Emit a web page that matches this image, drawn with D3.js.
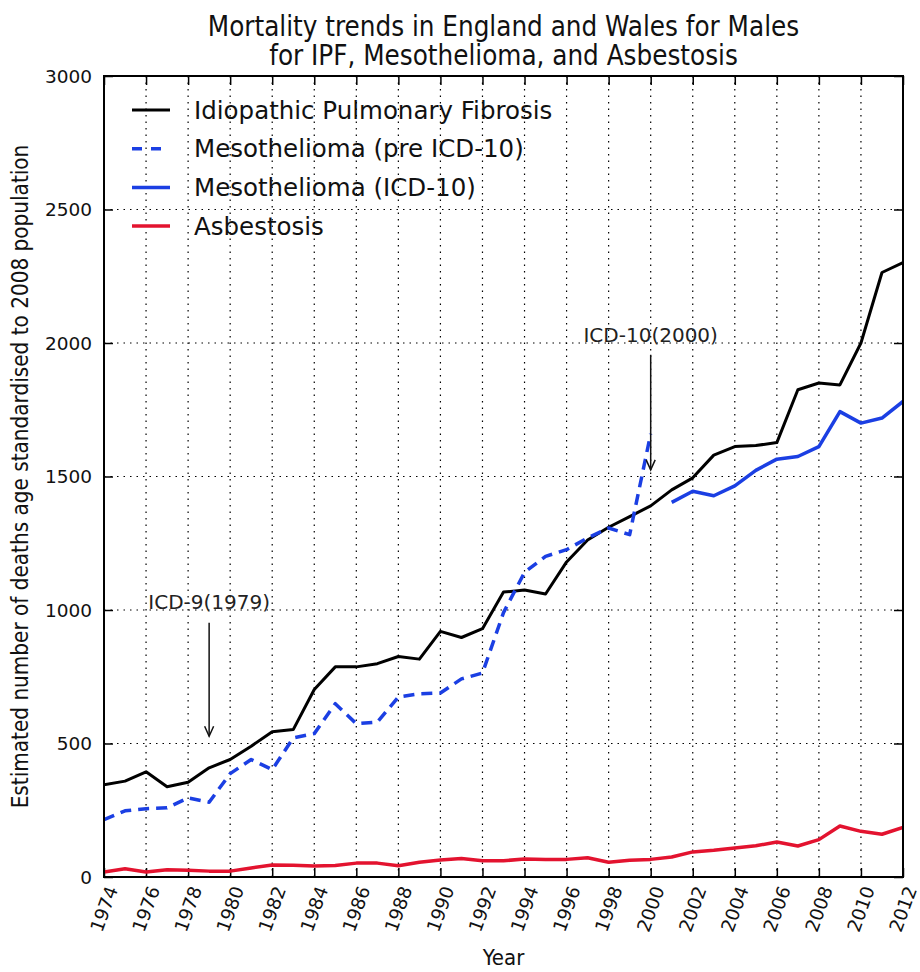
<!DOCTYPE html>
<html>
<head>
<meta charset="utf-8">
<script src="https://cdn.jsdelivr.net/npm/d3@7/dist/d3.min.js"></script>
<style>
  body { margin: 0; background: #fff; }
  text { font-family: "DejaVu Sans", sans-serif; fill: #111; }
  .cond { font-family: "DejaVu Sans Condensed", "DejaVu Sans", sans-serif; font-stretch: condensed; }
</style>
</head>
<body>
<div id="chart"></div>
<script>
// data
var years = d3.range(1974, 2013);
var ipf = [345, 359, 394, 338, 355, 409, 440, 490, 544, 552, 702, 787, 787, 799, 826, 816, 920, 897, 930, 1067,
           1075, 1060, 1180, 1262, 1310, 1350, 1390, 1450, 1495, 1580, 1612, 1616, 1627, 1825, 1850, 1843, 2000, 2264, 2301];
var mesoPreYears = d3.range(1974, 2001);
var mesoPre = [215, 248, 256, 259, 296, 280, 387, 440, 402, 521, 537, 649, 574, 580, 674, 686, 689, 742, 764, 990,
               1141, 1201, 1226, 1270, 1307, 1282, 1660];
var mesoIcdYears = d3.range(2001, 2013);
var mesoIcd = [1403, 1445, 1428, 1465, 1523, 1565, 1575, 1612, 1743, 1700, 1719, 1781];
var asbestosis = [19, 31, 19, 27, 25, 22, 22, 34, 45, 44, 41, 43, 52, 52, 42, 55, 64, 69, 61, 61, 67, 66, 66, 72,
                  55, 63, 66, 75, 94, 100, 109, 117, 131, 116, 140, 191, 171, 160, 186];

var xTicks = d3.range(1974, 2013, 2);
var yTicks = [0, 500, 1000, 1500, 2000, 2500, 3000];

var legendNames = ["Idiopathic Pulmonary Fibrosis", "Mesothelioma (pre ICD-10)", "Mesothelioma (ICD-10)", "Asbestosis"];
var notes = [
  {label: "ICD-9(1979)", year: 1979, textAt: 1005, from: 952, to: 527},
  {label: "ICD-10(2000)", year: 2000, textAt: 2004, from: 1956, to: 1525}
];

var W = 920, H = 972;
var margin = {top: 76, right: 17, bottom: 95, left: 104};
var width = W - margin.left - margin.right;
var height = H - margin.top - margin.bottom;

var svg = d3.select("#chart").append("svg")
  .attr("width", W).attr("height", H);

var g = svg.append("g").attr("transform", "translate(" + margin.left + "," + margin.top + ")");

var x = d3.scaleLinear().domain([1974, 2012]).range([0, width]);
var y = d3.scaleLinear().domain([0, 3000]).range([height, 0]);

// gridlines
g.append("g").selectAll("line").data(xTicks.slice(1, -1)).enter().append("line")
  .attr("x1", function(d) { return x(d); }).attr("x2", function(d) { return x(d); })
  .attr("y1", 0).attr("y2", height)
  .attr("stroke", "#000").attr("stroke-width", 1.2).attr("stroke-dasharray", "1.5,5");
g.append("g").selectAll("line").data(yTicks.slice(1, -1)).enter().append("line")
  .attr("y1", function(d) { return y(d); }).attr("y2", function(d) { return y(d); })
  .attr("x1", 0).attr("x2", width)
  .attr("stroke", "#000").attr("stroke-width", 1.2).attr("stroke-dasharray", "1.5,5");

// axes, ticks pointing inward on all four sides
var tk = 9;
var axB = g.append("g").attr("transform", "translate(0," + height + ")")
  .call(d3.axisBottom(x).tickValues(xTicks).tickSizeInner(-tk).tickSizeOuter(0).tickFormat(""));
var axT = g.append("g")
  .call(d3.axisTop(x).tickValues(xTicks).tickSizeInner(-tk).tickSizeOuter(0).tickFormat(""));
var axL = g.append("g")
  .call(d3.axisLeft(y).tickValues(yTicks).tickSizeInner(-tk).tickSizeOuter(0).tickFormat(""));
var axR = g.append("g").attr("transform", "translate(" + width + ",0)")
  .call(d3.axisRight(y).tickValues(yTicks).tickSizeInner(-tk).tickSizeOuter(0).tickFormat(""));
[axB, axT, axL, axR].forEach(function(a) {
  a.select(".domain").remove();
  a.selectAll(".tick line").attr("stroke", "#000").attr("stroke-width", 1.5);
});

// tick labels
g.append("g").selectAll("text").data(yTicks).enter().append("text")
  .attr("x", -12).attr("y", function(d) { return y(d); })
  .attr("text-anchor", "end").attr("dominant-baseline", "central")
  .style("font-size", "18.5px")
  .text(function(d) { return d; });

g.append("g").selectAll("text").data(xTicks).enter().append("text")
  .attr("transform", function(d) { return "translate(" + x(d) + "," + (height + 32) + ") rotate(-70)"; })
  .attr("text-anchor", "middle").attr("dominant-baseline", "central")
  .style("font-size", "18.5px")
  .text(function(d) { return d; });

// lines
var line = d3.line()
  .x(function(d) { return x(d[0]); })
  .y(function(d) { return y(d[1]); });

var series = [
  {data: d3.zip(years, ipf), color: "#000", w: 3, dash: null},
  {data: d3.zip(mesoPreYears, mesoPre), color: "#1b3fe3", w: 3.5, dash: "11,7"},
  {data: d3.zip(mesoIcdYears, mesoIcd), color: "#1b3fe3", w: 3.5, dash: null},
  {data: d3.zip(years, asbestosis), color: "#e3132f", w: 3.5, dash: null}
];

g.append("defs").append("clipPath").attr("id", "clip")
  .append("rect").attr("width", width).attr("height", height);

g.append("g").attr("clip-path", "url(#clip)").selectAll("path").data(series).enter().append("path")
  .attr("d", function(d) { return line(d.data); })
  .attr("fill", "none")
  .attr("stroke", function(d) { return d.color; })
  .attr("stroke-width", function(d) { return d.w; })
  .attr("stroke-dasharray", function(d) { return d.dash; })
  .attr("stroke-linejoin", "round");

// frame
g.append("rect").attr("width", width).attr("height", height)
  .attr("fill", "none").attr("stroke", "#000").attr("stroke-width", 2);

// annotations
var ann = g.append("g").selectAll("g").data(notes).enter().append("g");
ann.append("text")
  .attr("x", function(d) { return x(d.year); })
  .attr("y", function(d) { return y(d.textAt); })
  .attr("text-anchor", "middle")
  .style("font-size", "20px").style("fill", "#222")
  .text(function(d) { return d.label; });
ann.append("line")
  .attr("x1", function(d) { return x(d.year); }).attr("x2", function(d) { return x(d.year); })
  .attr("y1", function(d) { return y(d.from); }).attr("y2", function(d) { return y(d.to); })
  .attr("stroke", "#111").attr("stroke-width", 1.5);
ann.append("path")
  .attr("d", function(d) {
    var px = x(d.year), py = y(d.to);
    return "M" + (px - 4.5) + "," + (py - 10) + "L" + px + "," + py + "L" + (px + 4.5) + "," + (py - 10);
  })
  .attr("fill", "none").attr("stroke", "#111").attr("stroke-width", 1.5);

// legend
var leg = g.append("g").attr("transform", "translate(28,34)");
var legItems = leg.selectAll("g").data(series).enter().append("g")
  .attr("transform", function(d, i) { return "translate(0," + (i * 38.7) + ")"; });
legItems.append("line")
  .attr("x1", 0).attr("x2", 38).attr("y1", 0).attr("y2", 0)
  .attr("stroke", function(d) { return d.color; })
  .attr("stroke-width", function(d) { return d.w; })
  .attr("stroke-dasharray", function(d) { return d.dash ? "10,9" : null; });
legItems.append("text")
  .attr("x", 62).attr("y", 0).attr("dominant-baseline", "central")
  .style("font-size", "24.5px")
  .text(function(d, i) { return legendNames[i]; });

// titles
svg.append("text").attr("class", "cond")
  .attr("x", margin.left + width / 2).attr("y", 36)
  .attr("text-anchor", "middle").style("font-size", "27.5px")
  .text("Mortality trends in England and Wales for Males");
svg.append("text").attr("class", "cond")
  .attr("x", margin.left + width / 2).attr("y", 65)
  .attr("text-anchor", "middle").style("font-size", "27.5px")
  .text("for IPF, Mesothelioma, and Asbestosis");

svg.append("text").attr("class", "cond")
  .attr("transform", "translate(28," + (margin.top + height / 2) + ") rotate(-90)")
  .attr("text-anchor", "middle").style("font-size", "22.3px")
  .text("Estimated number of deaths age standardised to 2008 population");

svg.append("text").attr("class", "cond")
  .attr("x", margin.left + width / 2).attr("y", 965)
  .attr("text-anchor", "middle").style("font-size", "22px")
  .text("Year");
</script>
</body>
</html>
